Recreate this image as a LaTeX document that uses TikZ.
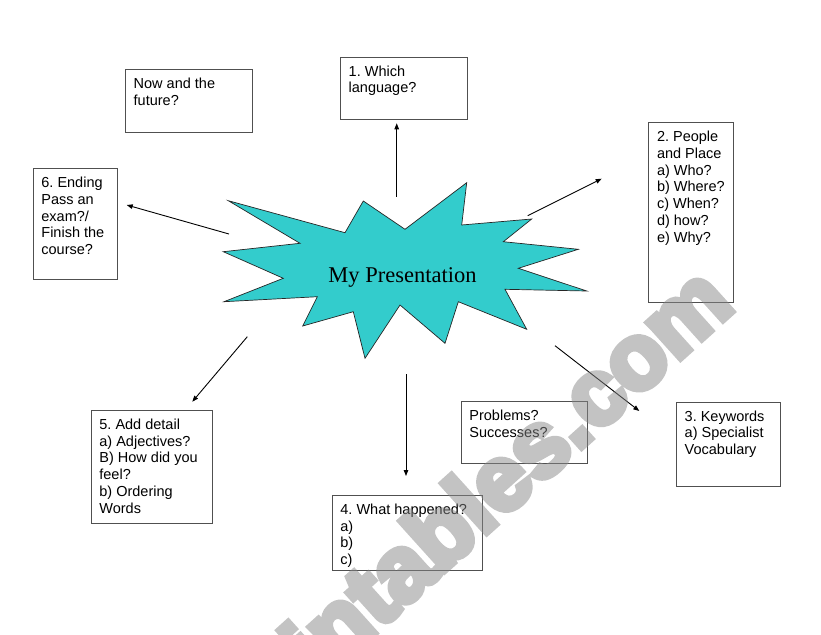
\documentclass[tikz,border=0pt]{standalone}
\usepackage{fontspec}
\setmainfont{Liberation Sans}
\newfontfamily\seriffont{Liberation Serif}
\newfontfamily\wmfont[FakeBold=7]{Liberation Sans Bold}
\usetikzlibrary{arrows.meta}
\frenchspacing
\definecolor{starfill}{RGB}{51,204,204}
\definecolor{boxgray}{RGB}{80,80,80}
\definecolor{wmgray}{RGB}{135,135,135}
\tikzset{
  box/.style={draw=boxgray, line width=1.1pt, rectangle, inner sep=0pt, anchor=north west},
  boxtext/.style={anchor=north west, inner sep=0pt, align=left, font=\fontsize{14.5}{16.7}\selectfont},
  conn/.style={draw=black, line width=0.9pt, -{Triangle[length=6pt,width=4.5pt]}},
  startext/.style={font=\seriffont\fontsize{22.5}{27}\selectfont, inner sep=0pt, anchor=base},
  watermark/.style={rotate=42, font=\wmfont\fontsize{92}{100}\selectfont, text=wmgray, inner sep=0pt}
}
\newcommand\mybox[6]{%
  \node[box, minimum width=#4pt, minimum height=#5pt] (#1) at (#2,#3) {};
  \node[boxtext] (#1-t) at ([xshift=8.5pt,yshift=-8.8pt]#1.north west) {#6};}
\begin{document}
\begin{tikzpicture}[x=1pt,y=-1pt]
\useasboundingbox (0,0) rectangle (821,634);
% star
\draw[fill=starfill, draw=black!85, line width=0.7pt, line join=miter]
  (228.3,200.7) -- (345,232.7) -- (363.3,201) -- (405,229.3) -- (466.7,182.7)
  -- (461.7,225) -- (531.7,219) -- (503.3,241.7) -- (578.3,249.3) -- (518.3,268.3)
  -- (586.7,291) -- (505,289.3) -- (526.7,329.3) -- (458.3,301.7) -- (445,343.3)
  -- (400,305) -- (365,358.3) -- (353.3,311.7) -- (302.7,326) -- (317.3,296.7)
  -- (224,301.7) -- (283.3,278.3) -- (223.3,251.7) -- (300,243.3) -- cycle;
\node[startext] (star) at (402.5,282.5) {My Presentation};
% boxes
\mybox{now}{125}{69}{126.5}{62.5}{Now and the\\future?}
\mybox{qone}{340}{56.7}{127}{62.5}{1. Which\\language?}
\mybox{qtwo}{648.3}{122.3}{84.4}{179.7}{2. People\\and Place\\a) Who?\\b) Where?\\c) When?\\d) how?\\e) Why?}
\mybox{qsix}{32.7}{168.3}{84.6}{111}{6. Ending\\Pass an\\exam?/\\Finish the\\course?}
\mybox{qfive}{90.7}{410}{121.6}{113.3}{5. Add detail\\a) Adjectives?\\B) How did you\\feel?\\b) Ordering\\Words}
\mybox{qfour}{331.7}{495}{150}{75}{4. What happened?\\a)\\b)\\c)}
\mybox{prob}{460.7}{401}{126}{62.3}{Problems?\\Successes?}
\mybox{qthree}{676}{401.7}{103.7}{84.3}{3. Keywords\\a) Specialist\\Vocabulary}
% arrow end points
\coordinate (s1) at (396.7,196.7); \coordinate (e1) at (396.7,123.3);
\coordinate (s2) at (527.7,215.7); \coordinate (e2) at (601.7,178.7);
\coordinate (s3) at (555,345.7);   \coordinate (e3) at (639.3,411);
\coordinate (s4) at (406,374);     \coordinate (e4) at (406,476);
\coordinate (s5) at (247.3,336.7); \coordinate (e5) at (192.3,401.7);
\coordinate (s6) at (229,234);     \coordinate (e6) at (126.7,205);
\foreach \i in {1,...,6} { \draw[conn] (s\i) -- (e\i); }
% watermark
\begin{scope}[transparency group, opacity=0.5]
  \node[watermark] (wm) at (430,552) {eslprintables.com};
\end{scope}
\end{tikzpicture}
\end{document}
